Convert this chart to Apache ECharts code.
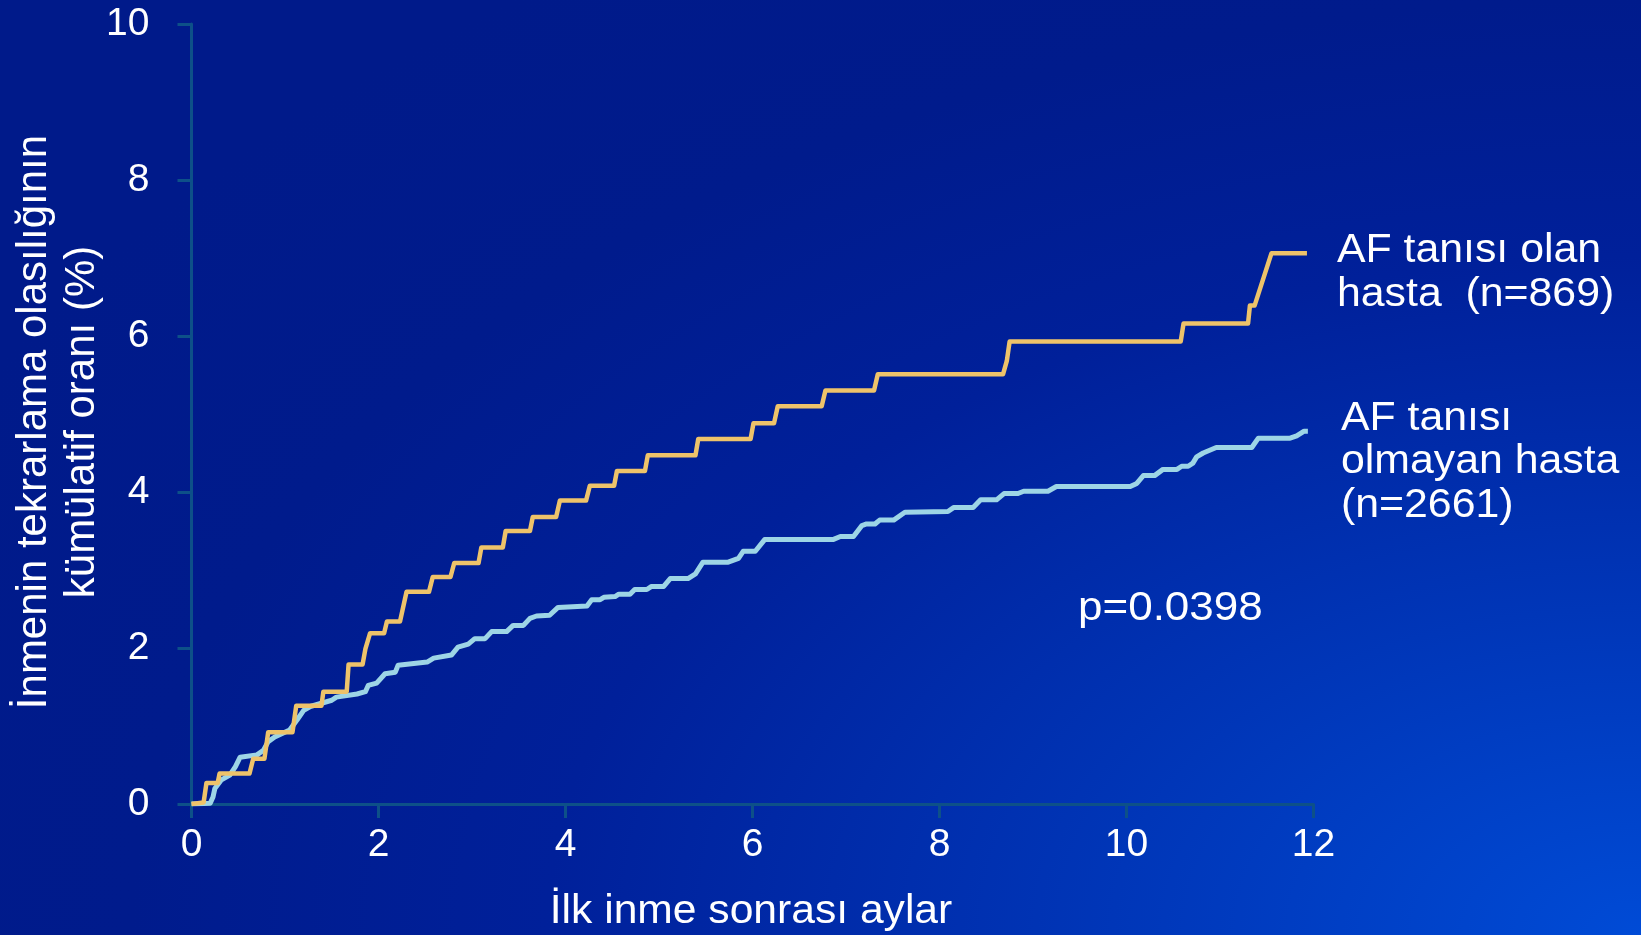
<!DOCTYPE html>
<html>
<head>
<meta charset="utf-8">
<script src="https://cdn.jsdelivr.net/npm/echarts@6/dist/echarts.min.js"></script>
<style>
  html, body { margin: 0; padding: 0; }
  #chart {
    width: 1641px; height: 935px;
    background: radial-gradient(ellipse 115% 125% at 100% 100%, #004bd6 0%, #0036b8 28%, #00209a 58%, #001b8c 80%, #001a8a 100%);
  }
</style>
</head>
<body>
<div id="chart"></div>
<script>
// Cumulative recurrent-stroke rate (%) over the months after the first stroke
const xTicks = [0, 2, 4, 6, 8, 10, 12];
const yTicks = [0, 2, 4, 6, 8, 10];

// Patients with AF (n=869): corner points of the step curve
const afMonths = [0, 0.13, 0.16, 0.28, 0.30, 0.62, 0.66, 0.78, 0.82, 1.08, 1.12, 1.39, 1.41, 1.66, 1.68, 1.83, 1.86, 1.88, 1.91, 2.06, 2.09, 2.23, 2.30, 2.54, 2.58, 2.77, 2.81, 3.07, 3.10, 3.33, 3.36, 3.62, 3.65, 3.90, 3.94, 4.22, 4.26, 4.52, 4.55, 4.85, 4.88, 5.39, 5.42, 5.98, 6.01, 6.23, 6.27, 6.74, 6.78, 7.30, 7.34, 8.68, 8.72, 8.75, 10.58, 10.61, 11.30, 11.32, 11.37, 11.55, 11.93];
const afRate = [0, 0.02, 0.27, 0.27, 0.39, 0.39, 0.58, 0.58, 0.92, 0.92, 1.26, 1.26, 1.44, 1.44, 1.79, 1.79, 1.99, 2.01, 2.19, 2.19, 2.34, 2.34, 2.72, 2.72, 2.91, 2.91, 3.09, 3.09, 3.29, 3.29, 3.50, 3.50, 3.68, 3.68, 3.89, 3.89, 4.08, 4.08, 4.27, 4.27, 4.47, 4.47, 4.68, 4.68, 4.88, 4.88, 5.10, 5.10, 5.30, 5.30, 5.51, 5.51, 5.68, 5.93, 5.93, 6.16, 6.16, 6.39, 6.39, 7.06, 7.06];

// Patients without AF (n=2661)
const noAfMonths = [0, 0.20, 0.23, 0.25, 0.32, 0.41, 0.47, 0.52, 0.70, 0.77, 0.82, 0.89, 1.05, 1.13, 1.20, 1.27, 1.50, 1.55, 1.77, 1.86, 1.89, 1.98, 2.07, 2.18, 2.21, 2.52, 2.59, 2.78, 2.85, 2.96, 3.03, 3.14, 3.21, 3.37, 3.44, 3.55, 3.62, 3.69, 3.83, 3.92, 4.23, 4.28, 4.37, 4.41, 4.53, 4.57, 4.69, 4.74, 4.87, 4.92, 5.05, 5.12, 5.31, 5.39, 5.47, 5.74, 5.85, 5.90, 6.03, 6.13, 6.86, 6.94, 7.08, 7.17, 7.22, 7.31, 7.36, 7.51, 7.63, 8.09, 8.15, 8.36, 8.44, 8.61, 8.69, 8.84, 8.90, 9.16, 9.25, 10.04, 10.11, 10.18, 10.30, 10.39, 10.54, 10.59, 10.66, 10.71, 10.75, 10.82, 10.96, 11.34, 11.41, 11.75, 11.82, 11.90, 11.94];
const noAfRate = [0, 0.01, 0.09, 0.20, 0.31, 0.37, 0.48, 0.60, 0.63, 0.69, 0.80, 0.86, 0.95, 1.08, 1.20, 1.25, 1.33, 1.37, 1.41, 1.44, 1.52, 1.55, 1.67, 1.69, 1.78, 1.82, 1.87, 1.91, 2.01, 2.05, 2.12, 2.12, 2.21, 2.21, 2.29, 2.29, 2.38, 2.41, 2.42, 2.52, 2.54, 2.62, 2.62, 2.65, 2.66, 2.69, 2.69, 2.75, 2.75, 2.79, 2.79, 2.89, 2.89, 2.95, 3.10, 3.10, 3.15, 3.24, 3.24, 3.39, 3.39, 3.43, 3.43, 3.57, 3.59, 3.59, 3.64, 3.64, 3.74, 3.75, 3.80, 3.80, 3.90, 3.90, 3.98, 3.98, 4.01, 4.01, 4.07, 4.07, 4.11, 4.21, 4.21, 4.29, 4.29, 4.33, 4.33, 4.37, 4.45, 4.50, 4.57, 4.57, 4.69, 4.69, 4.72, 4.78, 4.78];

const afLabel = 'AF tanısı olan\nhasta  (n=869)';
const noAfLabel = 'AF tanısı\nolmayan hasta\n(n=2661)';
const pLabel = 'p=0.0398';
const xTitle = 'İlk inme sonrası aylar';
const yTitle = 'İnmenin tekrarlama olasılığının\nkümülatif oranı (%)';

const zip = (xs, ys) => xs.map((x, i) => [x, ys[i]]);

const FONT = '"Liberation Sans", Arial, sans-serif';
const AXIS_COLOR = '#0d5088';

const chart = echarts.init(document.getElementById('chart'), null, { renderer: 'canvas' });

const axisCommon = {
  type: 'value',
  axisLine: { show: true, lineStyle: { color: AXIS_COLOR, width: 3 } },
  axisTick: { show: true, inside: false, length: 14, lineStyle: { color: AXIS_COLOR, width: 3 } },
  splitLine: { show: false },
  axisLabel: { color: '#ffffff', fontFamily: FONT, fontSize: 39 }
};

chart.setOption({
  backgroundColor: 'transparent',
  animation: false,
  grid: { left: 191.5, right: 327.5, top: 24, bottom: 131, containLabel: false },
  xAxis: Object.assign({}, axisCommon, {
    min: xTicks[0], max: xTicks[xTicks.length - 1], interval: xTicks[1] - xTicks[0],
    axisLabel: Object.assign({}, axisCommon.axisLabel, { margin: 22 })
  }),
  yAxis: Object.assign({}, axisCommon, {
    min: yTicks[0], max: yTicks[yTicks.length - 1], interval: yTicks[1] - yTicks[0],
    axisLabel: Object.assign({}, axisCommon.axisLabel, { margin: 42 })
  }),
  series: [
    {
      name: 'AF tanısı olmayan hasta',
      type: 'line',
      data: zip(noAfMonths, noAfRate),
      showSymbol: false,
      lineStyle: { color: '#9dd5e6', width: 5, join: 'round' },
      z: 3
    },
    {
      name: 'AF tanısı olan hasta',
      type: 'line',
      data: zip(afMonths, afRate),
      showSymbol: false,
      lineStyle: { color: '#eec36a', width: 4.5, join: 'round' },
      z: 4
    }
  ],
  graphic: [
    {
      type: 'text', x: 1337, y: 273, scaleX: 1.07,
      style: { text: afLabel, fill: '#ffffff', font: '40px ' + FONT, lineHeight: 44, align: 'left', verticalAlign: 'middle' }
    },
    {
      type: 'text', x: 1341, y: 462, scaleX: 1.07,
      style: { text: noAfLabel, fill: '#ffffff', font: '40px ' + FONT, lineHeight: 43.5, align: 'left', verticalAlign: 'middle' }
    },
    {
      type: 'text', x: 1078, y: 609, scaleX: 1.1,
      style: { text: pLabel, fill: '#ffffff', font: '40px ' + FONT, align: 'left', verticalAlign: 'middle' }
    },
    {
      type: 'text', x: 751, y: 912, scaleX: 1.065,
      style: { text: xTitle, fill: '#ffffff', font: '40px ' + FONT, align: 'center', verticalAlign: 'middle' }
    },
    {
      type: 'text', x: 58, y: 422, rotation: Math.PI / 2,
      style: { text: yTitle, fill: '#ffffff', font: '42px ' + FONT, lineHeight: 48, align: 'center', verticalAlign: 'middle' }
    }
  ]
});
</script>
</body>
</html>
